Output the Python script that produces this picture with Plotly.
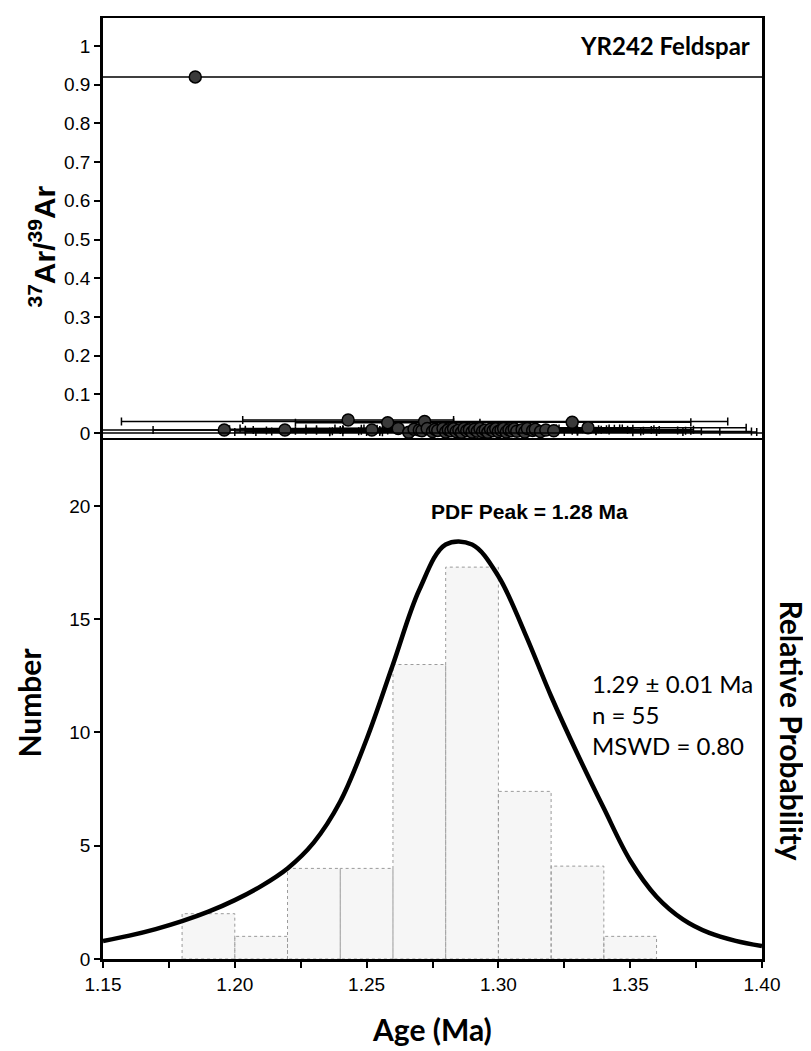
import plotly.graph_objects as go

# ---- data ----
# top panel: 37Ar/39Ar vs age, with age error bars
ar_age = [1.185, 1.196, 1.219, 1.243, 1.252, 1.258, 1.262, 1.266, 1.268, 1.270,
          1.271, 1.272, 1.273, 1.275, 1.276, 1.277, 1.279, 1.280, 1.281, 1.282,
          1.283, 1.284, 1.285, 1.286, 1.287, 1.288, 1.289, 1.290, 1.291, 1.292,
          1.293, 1.294, 1.295, 1.296, 1.297, 1.298, 1.299, 1.300, 1.301, 1.302,
          1.303, 1.304, 1.305, 1.306, 1.307, 1.309, 1.310, 1.311, 1.313, 1.314,
          1.316, 1.318, 1.321, 1.328, 1.334]
ar_ratio = [0.920, 0.008, 0.008, 0.034, 0.008, 0.027, 0.012, 0.002, 0.010, 0.008,
            0.006, 0.030, 0.012, 0.004, 0.010, 0.007, 0.012, 0.003, 0.009, 0.006,
            0.011, 0.004, 0.008, 0.002, 0.012, 0.006, 0.009, 0.003, 0.010, 0.005,
            0.012, 0.004, 0.008, 0.002, 0.010, 0.006, 0.011, 0.004, 0.008, 0.012,
            0.003, 0.009, 0.006, 0.011, 0.005, 0.009, 0.003, 0.012, 0.007, 0.010,
            0.004, 0.008, 0.006, 0.028, 0.014]
ar_err = [0.300, 0.060, 0.050, 0.040, 0.045, 0.035, 0.060, 0.030, 0.070, 0.050,
          0.040, 0.115, 0.035, 0.055, 0.045, 0.065, 0.030, 0.080, 0.040, 0.055,
          0.035, 0.070, 0.045, 0.030, 0.060, 0.040, 0.085, 0.035, 0.050, 0.045,
          0.030, 0.090, 0.040, 0.055, 0.035, 0.075, 0.045, 0.030, 0.060, 0.040,
          0.095, 0.035, 0.050, 0.045, 0.070, 0.040, 0.060, 0.035, 0.055, 0.045,
          0.080, 0.040, 0.050, 0.045, 0.060]

# bottom panel: histogram of ages
bin_left = [1.18, 1.20, 1.22, 1.24, 1.26, 1.28, 1.30, 1.32, 1.34]
bin_width = 0.02
bin_count = [2.0, 1.0, 4.0, 4.0, 13.0, 17.3, 7.4, 4.1, 1.0]

# probability density curve (scaled to the Number axis)
pdf_age = [1.15, 1.16, 1.17, 1.18, 1.19, 1.20, 1.21, 1.22, 1.23, 1.24,
           1.25, 1.26, 1.27, 1.28, 1.29, 1.30, 1.31, 1.32, 1.33, 1.34,
           1.35, 1.36, 1.37, 1.38, 1.39, 1.40]
pdf_val = [0.79, 1.03, 1.32, 1.67, 2.09, 2.60, 3.22, 4.00, 5.15, 6.95,
           9.70, 13.00, 16.30, 18.30, 18.30, 16.90, 14.40, 11.60, 9.05, 6.65,
           4.35, 2.75, 1.75, 1.15, 0.80, 0.57]

x_ticklabels = ['1.15', '1.20', '1.25', '1.30', '1.35', '1.40']
top_ticks = [0, 0.1, 0.2, 0.3, 0.4, 0.5, 0.6, 0.7, 0.8, 0.9, 1]
top_ticklabels = ['0', '0.1', '0.2', '0.3', '0.4', '0.5', '0.6', '0.7', '0.8', '0.9', '1']
bot_ticks = [0, 5, 10, 15, 20]

# ---- layout in pixels (page body adds an 8px offset) ----
OFF = 8
W, H = 811 - OFF, 1051 - OFF
ax_left, ax_right, ax_top, ax_bottom = 103, 762, 16, 959   # reference pixels
split_ref = 437                                           # panel boundary
L, R = ax_left - OFF, W - (ax_right - OFF)
T, B = ax_top - OFF, H - (ax_bottom - OFF)
plot_w = ax_right - ax_left
plot_h = ax_bottom - ax_top


def px(xp):
    return (xp - ax_left) / plot_w


def py(yp):
    return (ax_bottom - yp) / plot_h


split = py(split_ref)

fig = go.Figure()

# histogram bars drawn as dotted outlined boxes
hx, hy = [], []
for left, c in zip(bin_left, bin_count):
    right = left + bin_width
    hx += [left, left, right, right, left, None]
    hy += [0, c, c, 0, 0, None]
fig.add_trace(go.Scatter(
    x=hx, y=hy, mode='lines', fill='toself', fillcolor='#f6f6f6',
    line=dict(color='#9a9a9a', width=1, dash='dot'),
    xaxis='x', yaxis='y', showlegend=False, hoverinfo='skip'))

# probability density curve
fig.add_trace(go.Scatter(
    x=pdf_age, y=pdf_val, mode='lines',
    line=dict(color='black', width=4.5, shape='spline', smoothing=1.0),
    xaxis='x', yaxis='y', showlegend=False))

# 37Ar/39Ar points with age errors
fig.add_trace(go.Scatter(
    x=ar_age, y=ar_ratio, mode='markers',
    marker=dict(size=12, color='#3a3a3a', line=dict(color='black', width=1.5)),
    error_x=dict(type='data', array=ar_err, color='black', thickness=1.5, width=4),
    xaxis='x2', yaxis='y2', showlegend=False))

tick_font = dict(family='Liberation Sans, Arial', size=19, color='black')

# px per unit on the two y axes
bot_scale = 22.7
top_scale = 388.0
zero_top = 432

fig.update_layout(
    width=W, height=H,
    margin=dict(l=L, r=R, t=T, b=B),
    paper_bgcolor='white', plot_bgcolor='white',
    xaxis=dict(range=[1.15, 1.40], domain=[0, 1], anchor='y',
               tickvals=[1.15 + 0.025 * i for i in range(11)],
               ticktext=[x_ticklabels[i // 2] if i % 2 == 0 else '' for i in range(11)],
               ticks='outside', ticklen=6, tickwidth=1.5, tickcolor='black',
               showline=True, linecolor='black', linewidth=2.5,
               showgrid=False, zeroline=False, tickfont=tick_font),
    yaxis=dict(range=[0, (ax_bottom - split_ref) / bot_scale], domain=[0, split],
               anchor='x', tickvals=bot_ticks, ticks='outside', ticklen=6,
               tickwidth=1.5, tickcolor='black', showline=True, linecolor='black',
               linewidth=2.5, mirror=True, showgrid=False, zeroline=False,
               tickfont=tick_font),
    xaxis2=dict(range=[1.15, 1.40], domain=[0, 1], anchor='y2',
                showticklabels=False, ticks='', showline=True, linecolor='black',
                linewidth=1.5, mirror=True, showgrid=False, zeroline=False),
    yaxis2=dict(range=[-(split_ref - zero_top) / top_scale, (zero_top - ax_top) / top_scale],
                domain=[split, 1], anchor='x2',
                tickvals=top_ticks, ticktext=top_ticklabels,
                ticks='outside', ticklen=6, tickwidth=1.5, tickcolor='black',
                showline=True, linecolor='black', linewidth=2.5, mirror=True,
                showgrid=False, zeroline=False, tickfont=tick_font),
    font=dict(family='Liberation Sans, Arial', color='black'),
)

# horizontal zero line of the top panel
fig.add_shape(type='line', xref='x2 domain', yref='y2', x0=0, x1=1, y0=0, y1=0,
              line=dict(color='black', width=1.5))

bold_cal = dict(family='Lato, Open Sans', size=30, color='black')
annos = [
    dict(text='<b>YR242 Feldspar</b>', x=px(752), y=py(44), xanchor='right',
         yanchor='middle', font=dict(family='Lato', size=24, color='black')),
    dict(text='<b><sup>37</sup>Ar/<sup>39</sup>Ar</b>', x=px(42), y=py(245),
         xanchor='center', yanchor='middle', textangle=-90,
         font=dict(family='Liberation Sans, Arial', size=30, color='black')),
    dict(text='<b>Number</b>', x=px(29), y=py(702), xanchor='center',
         yanchor='middle', textangle=-90, font=bold_cal),
    dict(text='<b>Relative Probability</b>', x=px(792), y=py(730),
         xanchor='center', yanchor='middle', textangle=90, font=bold_cal),
    dict(text='<b>Age (Ma)</b>', x=px(432), y=py(1029), xanchor='center',
         yanchor='middle', font=bold_cal),
    dict(text='<b>PDF Peak = 1.28 Ma</b>', x=px(529), y=py(511), xanchor='center',
         yanchor='middle', font=dict(family='Liberation Sans, Arial', size=21, color='black')),
    dict(text='1.29 ± 0.01 Ma<br>n = 55<br>MSWD = 0.80', x=px(590), y=py(714),
         xanchor='left', yanchor='middle', align='left',
         font=dict(family='Lato', size=24, color='black')),
]
for a in annos:
    fig.add_annotation(xref='paper', yref='paper', showarrow=False, **a)

fig.write_html("out.html")
